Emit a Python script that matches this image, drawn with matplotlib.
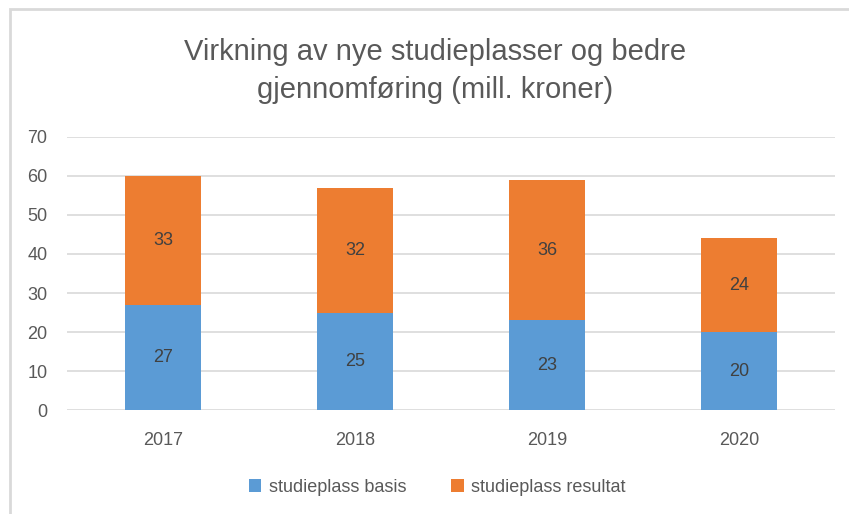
import matplotlib.pyplot as plt
from matplotlib.patches import Rectangle

years = ['2017', '2018', '2019', '2020']
basis = [27, 25, 23, 20]
resultat = [33, 32, 36, 24]

plt.rcParams['font.family'] = ['Liberation Sans', 'DejaVu Sans']

blue = '#5B9BD5'
orange = '#ED7D31'
grey = '#595959'

fig = plt.figure(figsize=(8.49, 5.14), dpi=100)
ax = fig.add_axes([0.0789, 0.2023, 0.9046, 0.5312])

x = range(len(years))
b1 = ax.bar(x, basis, width=0.4, color=blue, label='studieplass basis', zorder=2)
b2 = ax.bar(x, resultat, width=0.4, bottom=basis, color=orange,
            label='studieplass resultat', zorder=2)
ax.bar_label(b1, labels=[str(v) for v in basis], label_type='center',
             fontsize=13, color='#404040')
ax.bar_label(b2, labels=[str(v) for v in resultat], label_type='center',
             fontsize=13, color='#404040')

ax.set_xlim(-0.5, 3.5)
ax.set_ylim(0, 70)
ax.set_yticks(range(0, 71, 10))
ax.set_xticks(list(x))
ax.set_xticklabels(years)
ax.yaxis.grid(True, color='#D9D9D9', linewidth=1.2, zorder=0)
ax.tick_params(axis='both', length=0, labelsize=13, colors=grey)
ax.tick_params(axis='x', pad=16)
ax.tick_params(axis='y', pad=14)
for s in ax.spines.values():
    s.set_visible(False)

fig.text(0.512, 0.862, 'Virkning av nye studieplasser og bedre\ngjennomføring (mill. kroner)',
         ha='center', va='center', fontsize=21, color=grey, linespacing=1.45)

fig.legend(loc='center', bbox_to_anchor=(0.515, 0.052), ncol=2, frameon=False,
           fontsize=13, labelcolor=grey, handlelength=0.7, handleheight=0.7,
           columnspacing=2.5, handletextpad=0.4)

# chart area border (top and left visible)
fig.patches.append(Rectangle((10 / 849, -0.1), 1.2, 1 - 9 / 514 + 0.1,
                             transform=fig.transFigure, fill=False,
                             edgecolor='#D9D9D9', linewidth=2))

fig.savefig('out.png', dpi=100)
